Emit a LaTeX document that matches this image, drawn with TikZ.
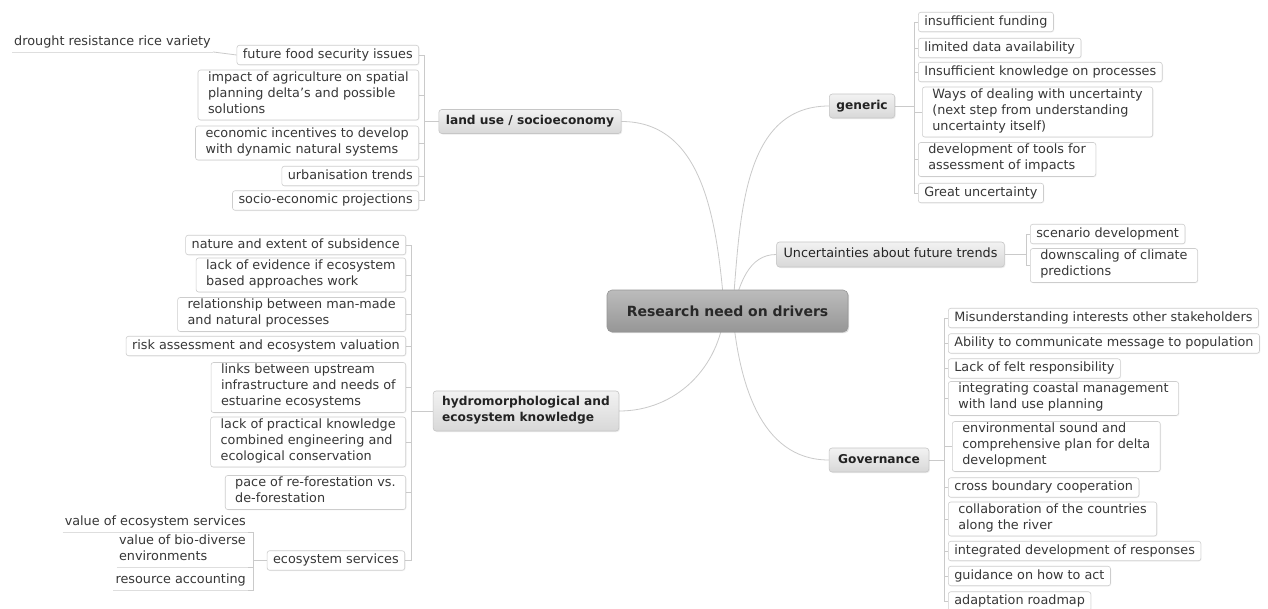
\documentclass[tikz,border=0pt]{standalone}
\usepackage{fontspec}
\setmainfont{DejaVu Sans}
\usetikzlibrary{backgrounds,shadows}
\definecolor{leafborder}{RGB}{205,205,205}
\definecolor{linec}{RGB}{202,202,202}
\definecolor{ulinec}{RGB}{222,222,222}
\definecolor{txt}{RGB}{55,55,55}
\definecolor{brborder}{RGB}{198,198,198}
\definecolor{brtop}{RGB}{242,242,242}
\definecolor{brbot}{RGB}{216,216,216}
\definecolor{brtext}{RGB}{35,35,35}
\definecolor{cborder}{RGB}{150,150,150}
\definecolor{ctop}{RGB}{188,188,188}
\definecolor{cbot}{RGB}{150,150,150}
\definecolor{ctext}{RGB}{40,40,40}
\newcommand\mmleaf{\fontsize{12.8}{16}\selectfont}
\newcommand\mmbranch{\fontsize{12.2}{16}\selectfont\bfseries}
\newcommand\mmcentre{\fontsize{14}{18}\selectfont\bfseries}
\tikzset{
  leaf/.style={draw=leafborder, fill=white, rounded corners=2.5pt, line width=0.6pt,
    inner xsep=6pt, inner ysep=1.75pt, font=\mmleaf, text=txt, align=left,
    execute at begin node=\strut, execute at end node=\strut,
    drop shadow={opacity=0.08, shadow xshift=0.8pt, shadow yshift=-0.8pt}},
  leafm/.style={leaf, inner xsep=10pt},
  plain/.style={font=\mmleaf, text=txt, inner xsep=2pt, inner ysep=1.75pt, align=left,
    execute at begin node=\strut, execute at end node=\strut},
  branch/.style={draw=brborder, top color=brtop, bottom color=brbot, rounded corners=3pt,
    line width=0.6pt, inner xsep=7pt, inner ysep=4pt, font=\mmbranch, text=brtext, align=left,
    execute at begin node=\strut, execute at end node=\strut,
    drop shadow={opacity=0.15, shadow xshift=1pt, shadow yshift=-1pt}},
  centre/.style={draw=cborder, top color=ctop, bottom color=cbot, rounded corners=5pt,
    line width=0.6pt, minimum width=241pt, minimum height=42pt, font=\mmcentre, text=ctext,
    drop shadow={opacity=0.25, shadow xshift=1.2pt, shadow yshift=-1.2pt}},
  conn/.style={draw=linec, line width=0.8pt},
  uline/.style={draw=ulinec, line width=0.8pt},
}
\begin{document}
\begin{tikzpicture}[x=1pt,y=1pt]
\useasboundingbox (0,0) rectangle (1268,-608);
% centre and branches
\node[centre] (c) at (727.5,-311) {Research need on drivers};
\node[branch] (lu) at (530,-121.5) {land use / socioeconomy};
\node[branch, inner xsep=9pt, inner ysep=5pt] (hy) at (526,-411) {hydromorphological and\\ecosystem knowledge};
\node[branch] (gen) at (862,-106) {generic};
\node[branch, font=\mmleaf, inner ysep=4.5pt] (unc) at (890.5,-254.5) {Uncertainties about future trends};
\node[branch, inner xsep=9pt] (gov) at (879,-460) {Governance};
% land use leaves
\node[leaf,anchor=east] (lu1) at (419,-55) {future food security issues};
\node[leafm,anchor=east] (lu2) at (419,-95) {impact of agriculture on spatial\\planning delta's and possible\\solutions};
\node[leafm,anchor=east] (lu3) at (419,-143) {economic incentives to develop\\with dynamic natural systems};
\node[leaf,anchor=east] (lu4) at (419,-176) {urbanisation trends};
\node[leaf,anchor=east] (lu5) at (419,-200.5) {socio-economic projections};
\node[plain,anchor=east] (dr) at (213,-42) {drought resistance rice variety};
\coordinate (blu) at (424,-121.5);
% hydro leaves
\node[leaf,anchor=east] (hy1) at (406,-245) {nature and extent of subsidence};
\node[leafm,anchor=east] (hy2) at (406,-275) {lack of evidence if ecosystem\\based approaches work};
\node[leafm,anchor=east] (hy3) at (406,-314.5) {relationship between man-made\\and natural processes};
\node[leaf,anchor=east] (hy4) at (406,-346) {risk assessment and ecosystem valuation};
\node[leafm,anchor=east] (hy5) at (406,-387.5) {links between upstream\\infrastructure and needs of\\estuarine ecosystems};
\node[leafm,anchor=east] (hy6) at (406,-442) {lack of practical knowledge\\combined engineering and\\ecological conservation};
\node[leafm,anchor=east] (hy7) at (406,-492.5) {pace of re-forestation vs.\\de-forestation};
\node[leaf,anchor=east] (hy8) at (405,-560.5) {ecosystem services};
\coordinate (bhy) at (411,-411);
\node[plain,anchor=east] (es1) at (248,-522) {value of ecosystem services};
\node[plain,anchor=east] (es2) at (248,-550) {value of bio-diverse\\environments};
\node[plain,anchor=east] (es3) at (248,-580) {resource accounting};
\coordinate (bes) at (253,-560.5);
% generic leaves
\node[leaf,anchor=west] (g1) at (918,-22) {insufficient funding};
\node[leaf,anchor=west] (g2) at (918,-48) {limited data availability};
\node[leaf,anchor=west] (g3) at (918,-72) {Insufficient knowledge on processes};
\node[leafm,anchor=west] (g4) at (922,-112) {Ways of dealing with uncertainty\\(next step from understanding\\uncertainty itself)};
\node[leafm,anchor=west] (g5) at (918,-159.5) {development of tools for\\assessment of impacts};
\node[leaf,anchor=west] (g6) at (918,-193) {Great uncertainty};
\coordinate (bgen) at (914,-106);
% uncertainties leaves
\node[leaf,anchor=west] (u1) at (1030,-234) {scenario development};
\node[leafm,anchor=west] (u2) at (1030,-265.5) {downscaling of climate\\predictions};
\coordinate (bunc) at (1026,-254.5);
% governance leaves
\node[leaf,anchor=west] (v1) at (948,-318) {Misunderstanding interests other stakeholders};
\node[leaf,anchor=west] (v2) at (948,-343.5) {Ability to communicate message to population};
\node[leaf,anchor=west] (v3) at (948,-368.5) {Lack of felt responsibility};
\node[leafm,anchor=west] (v4) at (948,-398.5) {integrating coastal management\\with land use planning};
\node[leafm,anchor=west] (v5) at (952,-446.5) {environmental sound and\\comprehensive plan for delta\\development};
\node[leaf,anchor=west] (v6) at (948,-487.5) {cross boundary cooperation};
\node[leafm,anchor=west] (v7) at (948,-519) {collaboration of the countries\\along the river};
\node[leaf,anchor=west] (v8) at (948,-551) {integrated development of responses};
\node[leaf,anchor=west] (v9) at (948,-576) {guidance on how to act};
\node[leaf,anchor=west] (v10) at (948,-601.5) {adaptation roadmap};
\coordinate (bgov) at (944,-460);
\begin{pgfonlayer}{background}
\fill[white] (0,0) rectangle (1268,-608);
% main curves
\draw[conn] (lu.east) to[out=0,in=95] ([xshift=-3pt]c.center);
\draw[conn] (hy.east) to[out=0,in=-95] ([xshift=-3pt]c.center);
\draw[conn] (gen.west) to[out=180,in=85] ([xshift=5pt]c.center);
\draw[conn] (unc.west) to[out=180,in=75] ([xshift=5pt]c.center);
\draw[conn] (gov.west) to[out=180,in=-85] ([xshift=5pt]c.center);
% left buses
\foreach \n in {lu1,lu2,lu3,lu4,lu5}
  \draw[conn] (\n.east) -- (\n.east -| blu) |- (lu.west);
\foreach \n in {hy1,hy2,hy3,hy4,hy5,hy6,hy7,hy8}
  \draw[conn] (\n.east) -- (\n.east -| bhy) |- (hy.west);
\foreach \n in {es1,es2,es3}
  \draw[uline] (\n.south west) -- (\n.south east);
\foreach \n in {es1,es2,es3}
  \draw[conn] (\n.south east) -- (\n.south east -| bes) |- (hy8.west);
\draw[uline] (dr.south west) -- (dr.south east);
\draw[conn] (dr.south east) -- (lu1.west);
% right buses
\foreach \n in {g1,g2,g3,g4,g5,g6}
  \draw[conn] (\n.west) -- (\n.west -| bgen) |- (gen.east);
\foreach \n in {u1,u2}
  \draw[conn] (\n.west) -- (\n.west -| bunc) |- (unc.east);
\foreach \n in {v1,v2,v3,v4,v5,v6,v7,v8,v9,v10}
  \draw[conn] (\n.west) -- (\n.west -| bgov) |- (gov.east);
\end{pgfonlayer}
\end{tikzpicture}
\end{document}
